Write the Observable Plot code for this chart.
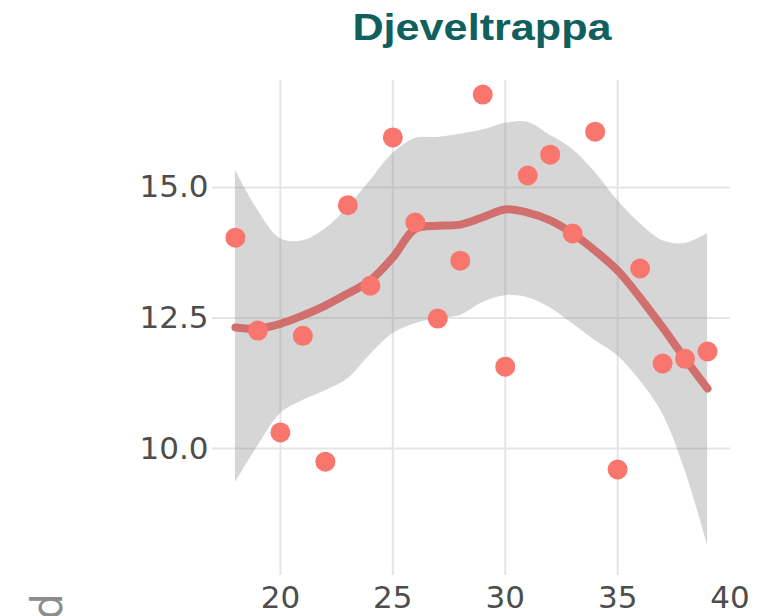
<!DOCTYPE html>
<html>
<head>
<meta charset="utf-8">
<script src="https://cdn.jsdelivr.net/npm/d3@7"></script>
<script src="https://cdn.jsdelivr.net/npm/@observablehq/plot@0.6"></script>
<style>
  html, body { margin: 0; padding: 0; background: #fff; width: 757px; height: 616px; overflow: hidden; }
  #wrap { position: relative; width: 757px; height: 616px; }
  #title { position: absolute; top: 0; left: 482px; height: 62px; line-height: 37px; padding-top: 9px; box-sizing: border-box;
    font-family: "Liberation Sans", Arial, sans-serif; font-weight: bold; font-size: 37px; color: #10605e;
    white-space: nowrap; transform: translateX(-50%) scaleX(1.167); transform-origin: center; }
  #chart { position: absolute; top: 62px; left: 0; }
</style>
</head>
<body>
<div id="wrap">
  <div id="title">Djeveltrappa</div>
  <div id="chart"></div>
</div>
<script>
// Data
const xValues = [18, 19, 20, 21, 22, 23, 24, 25, 26, 27, 28, 29, 30, 31, 32, 33, 34, 35, 36, 37, 38, 39];
const observed = [14.04, 12.26, 10.31, 12.16, 9.75, 14.66, 13.12, 15.96, 14.33, 12.49, 13.60, 16.78, 11.57, 15.23, 15.63, 14.12, 16.07, 9.60, 13.45, 11.63, 11.72, 11.86];
const smoothFit = [12.32, 12.30, 12.39, 12.55, 12.74, 12.97, 13.22, 13.66, 14.21, 14.27, 14.29, 14.43, 14.58, 14.52, 14.37, 14.12, 13.79, 13.41, 12.89, 12.32, 11.72, 11.15];
const bandUpper = [15.33, 14.56, 14.02, 13.98, 14.21, 14.62, 15.13, 15.65, 15.94, 15.96, 16.02, 16.10, 16.23, 16.25, 16.00, 15.73, 15.29, 14.75, 14.31, 13.98, 13.93, 14.12];
const bandLower = [9.35, 10.05, 10.67, 10.92, 11.11, 11.34, 11.80, 12.20, 12.39, 12.49, 12.55, 12.80, 12.93, 12.89, 12.70, 12.39, 12.07, 11.78, 11.30, 10.67, 9.58, 8.15];
const yTicks = [10, 12.5, 15];
const xTicks = [20, 25, 30, 35, 40];
const xGrid = [20, 25, 30, 35];
const yLabelTail = "d";

const rows = xValues.map((x, i) => ({x, y: observed[i], fit: smoothFit[i], lo: bandLower[i], hi: bandUpper[i]}));

const font = "'DejaVu Sans', sans-serif";
const plot = Plot.plot({
  width: 757,
  height: 554,
  marginLeft: 212,
  marginRight: 27,
  marginTop: 18,
  marginBottom: 41,
  style: {fontFamily: font, fontSize: "31px", background: "#fff", overflow: "visible"},
  x: {domain: [16.98, 40.02]},
  y: {domain: [7.57, 17.05]},
  marks: [
    Plot.gridY(yTicks, {stroke: "#e5e5e5", strokeOpacity: 1, strokeWidth: 2}),
    Plot.gridX(xGrid, {stroke: "#e5e5e5", strokeOpacity: 1, strokeWidth: 2}),
    Plot.areaY(rows, {x: "x", y1: "lo", y2: "hi", fill: "#999999", fillOpacity: 0.4, curve: "catmull-rom"}),
    Plot.line(rows, {x: "x", y: "fit", stroke: "#d06f6d", strokeWidth: 8, curve: "catmull-rom"}),
    Plot.dot(rows, {x: "x", y: "y", r: 10, fill: "#F8766D", stroke: "none"}),
    Plot.axisY(yTicks, {tickSize: 0, tickPadding: 4, tickFormat: d3.format(".1f"), fontSize: 31, fill: "#4d4d4d", label: null}),
    Plot.axisX(xTicks, {tickSize: 0, tickPadding: 10, tickFormat: d => String(d), fontSize: 31, fill: "#4d4d4d", label: null})
  ]
});
document.getElementById("chart").appendChild(plot);

// Tail of the rotated y-axis title, cut off at the bottom edge
d3.select(plot).append("text")
  .attr("transform", "translate(62,531) rotate(-90)")
  .attr("text-anchor", "end")
  .attr("font-family", font)
  .attr("font-size", 42)
  .attr("fill", "#8c8c8c")
  .text(yLabelTail);
</script>
</body>
</html>
